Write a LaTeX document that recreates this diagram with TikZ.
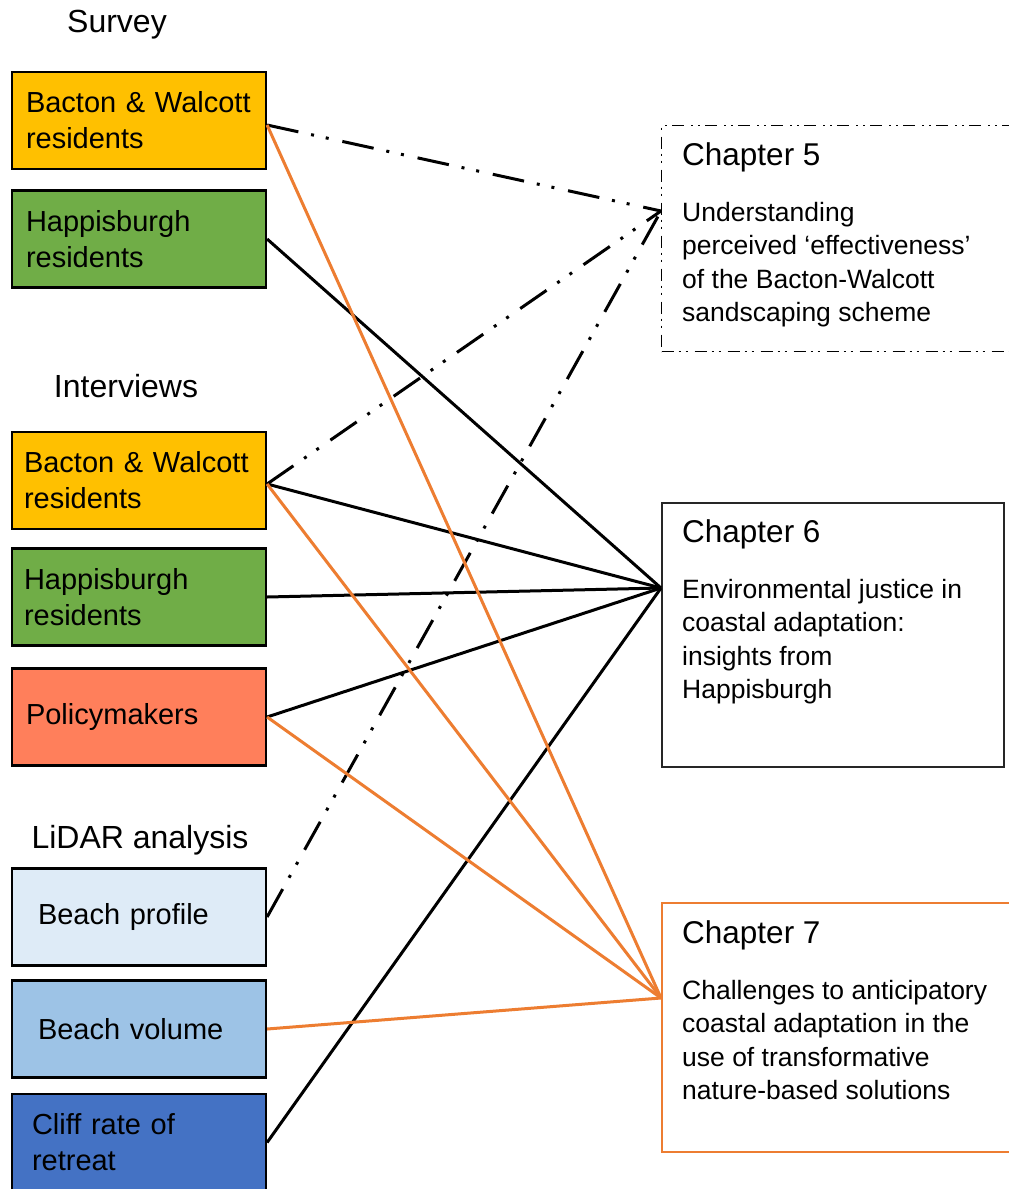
\documentclass[tikz,border=0pt]{standalone}
\usepackage{fontspec}
\setmainfont{Liberation Sans}
\definecolor{yel}{HTML}{FFC000}
\definecolor{grn}{HTML}{70AD47}
\definecolor{coral}{HTML}{FF7F5B}
\definecolor{lblue}{HTML}{DEEBF7}
\definecolor{mblue}{HTML}{9DC3E6}
\definecolor{dblue}{HTML}{4472C4}
\definecolor{org}{HTML}{ED7D31}
\begin{document}
\begin{tikzpicture}[x=1pt,y=-1pt,
  lbox/.style={draw=black, line width=2.2pt, minimum width=252pt, minimum height=97pt,
    inner xsep=14pt, text width=226pt, align=left, font=\fontsize{29}{36}\selectfont},
  sect/.style={font=\fontsize{32}{38}\selectfont, inner sep=0pt},
  cbox/.style={minimum height=226pt, inner sep=0pt},
  ctitle/.style={anchor=north west, inner sep=0pt, font=\fontsize{31.5}{38}\selectfont},
  cbody/.style={anchor=north west, inner sep=0pt, align=left, font=\fontsize{26.5}{33.3}\selectfont},
  solidk/.style={draw=black, line width=3pt},
  orng/.style={draw=org, line width=3pt},
  ddot/.style={draw=black, line width=3pt, dash pattern=on 32pt off 13pt on 3pt off 12pt on 3pt off 14pt}
]
\useasboundingbox (0,0) rectangle (1009,1189);
\clip (0,0) rectangle (1009,1189);
\fill[white] (0,0) rectangle (1009,1189);

% section labels
\node[sect] (lsurvey) at (117,25) {Survey};
\node[sect] (linterv) at (126,386) {Interviews};
\node[sect] (llidar) at (140,840) {LiDAR analysis};

% left boxes
\node[lbox, fill=yel] (sbw) at (139,120.5) {Bacton \& Walcott\\residents};
\node[lbox, fill=grn] (shap) at (139,239) {Happisburgh\\residents};
\node[lbox, fill=yel, inner xsep=12pt, text width=230pt] (ibw) at (139,480.5) {Bacton \& Walcott\\residents};
\node[lbox, fill=grn, inner xsep=12pt, text width=230pt] (ihap) at (139,597) {Happisburgh\\residents};
\node[lbox, fill=coral] (pol) at (139,717) {Policymakers};
\node[lbox, fill=lblue, inner xsep=26pt, text width=202pt] (bprof) at (139,917) {Beach profile};
\node[lbox, fill=mblue, inner xsep=26pt, text width=202pt] (bvol) at (139,1029) {Beach volume};
\node[lbox, fill=dblue, inner xsep=20pt, text width=214pt] (cliff) at (139,1142.5) {Cliff rate of\\retreat};

% chapter boxes
\node[cbox, draw=black, line width=1.4pt, minimum width=360pt,
  dash pattern=on 12pt off 5pt on 2pt off 5pt on 2pt off 7pt,
  anchor=north west] (ch5) at (661,125) {};
\node[cbox, draw=black!85, line width=1.6pt, minimum width=342pt, minimum height=264pt,
  anchor=north west] (ch6) at (661,502) {};
\node[cbox, draw=org, line width=2.2pt, minimum width=360pt, minimum height=249pt,
  anchor=north west] (ch7) at (661,902) {};

\node[ctitle] (t5) at (682,142) {Chapter 5};
\node[cbody] (b5) at (682,202) {Understanding\\perceived ‘effectiveness’\\of the Bacton-Walcott\\sandscaping scheme};
\node[ctitle] (t6) at (682,519) {Chapter 6};
\node[cbody] (b6) at (682,579) {Environmental justice in\\coastal adaptation:\\insights from\\Happisburgh};
\node[ctitle] (t7) at (682,920) {Chapter 7};
\node[cbody] (b7) at (682,980) {Challenges to anticipatory\\coastal adaptation in the\\use of transformative\\nature-based solutions};

% connection points
\coordinate (in5) at ([yshift=-86pt]ch5.north west);
\coordinate (in6) at ([yshift=-86pt]ch6.north west);
\coordinate (in7) at ([yshift=-96pt]ch7.north west);
\coordinate (osbw) at ([yshift=-4.5pt]sbw.east);
\coordinate (oibw) at ([yshift=-3.5pt]ibw.east);

% connectors
\draw[ddot] (osbw) -- (in5);
\draw[ddot] (oibw) -- (in5);
\draw[ddot] (bprof.east) -- (in5);
\draw[solidk] (shap.east) -- (in6);
\draw[solidk] (oibw) -- (in6);
\draw[solidk] (ihap.east) -- (in6);
\draw[solidk] (pol.east) -- (in6);
\draw[solidk] (cliff.east) -- (in6);
\draw[orng] (osbw) -- (in7);
\draw[orng] (oibw) -- (in7);
\draw[orng] (pol.east) -- (in7);
\draw[orng] (bvol.east) -- (in7);
\end{tikzpicture}
\end{document}
